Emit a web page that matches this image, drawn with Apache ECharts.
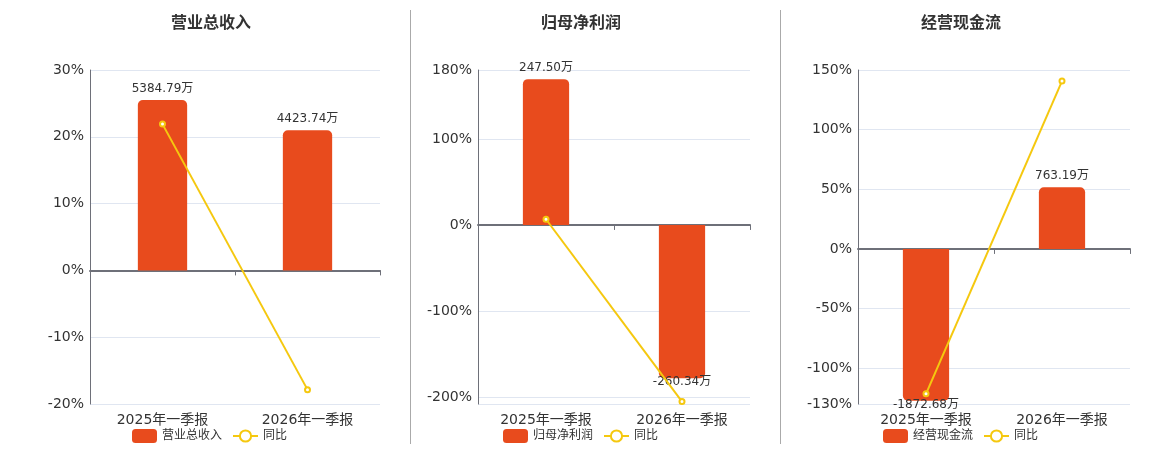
<!DOCTYPE html>
<html>
<head>
<meta charset="utf-8">
<script src="https://cdn.jsdelivr.net/npm/echarts@6/dist/echarts.min.js"></script>
<style>
html,body{margin:0;padding:0;background:#fff;}
#c{width:1160px;height:450px;}
</style>
</head>
<body>
<div id="c"></div>
<script>
// ---- data ----
const categories = ['2025年一季报', '2026年一季报'];
const titles = ['营业总收入', '归母净利润', '经营现金流'];
const revenue = [5384.79, 4423.74];
const revenueYoy = [21.9, -17.85];
const netProfit = [247.50, -260.34];
const netProfitYoy = [6.6, -205.19];
const cashFlow = [-1872.68, 763.19];
const cashFlowYoy = [-121.5, 140.75];
const revenueTicks = [-20, -10, 0, 10, 20, 30];
const profitTicks = [-200, -100, 0, 100, 180];
const cashTicks = [-130, -100, -50, 0, 50, 100, 150];

// ---- layout / scales ----
const panels = [
  { bars: revenue, yoy: revenueYoy, ticks: revenueTicks, splits: revenueTicks,
    pctMin: -20, pctMax: 30, barMin: -4220, barMax: 6330,
    gridLeft: 90, gridWidth: 290, titleLeft: 171, legendLeft: 132 },
  { bars: netProfit, yoy: netProfitYoy, ticks: profitTicks, splits: [-208].concat(profitTicks),
    pctMin: -208, pctMax: 180, barMin: -304, barMax: 263,
    gridLeft: 478, gridWidth: 272, titleLeft: 541, legendLeft: 503 },
  { bars: cashFlow, yoy: cashFlowYoy, ticks: cashTicks, splits: cashTicks,
    pctMin: -130, pctMax: 150, barMin: -1914, barMax: 2211,
    gridLeft: 858, gridWidth: 272, titleLeft: 921, legendLeft: 883 }
];

const BAR_COLOR = '#E84B1D';
const LINE_COLOR = '#F5C80F';
const AXIS_COLOR = '#6E7079';
const FONT = "'DejaVu Sans', 'Noto Sans CJK SC', sans-serif";

const option = {
  animation: false,
  backgroundColor: '#fff',
  textStyle: { fontFamily: FONT },
  title: [], legend: [], grid: [], xAxis: [], yAxis: [], series: [],
  graphic: [
    { type: 'line', shape: { x1: 410.5, y1: 10, x2: 410.5, y2: 444 }, style: { stroke: '#aaa', lineWidth: 1 } },
    { type: 'line', shape: { x1: 780.5, y1: 10, x2: 780.5, y2: 444 }, style: { stroke: '#aaa', lineWidth: 1 } }
  ]
};

panels.forEach((p, i) => {
  option.title.push({
    text: titles[i], left: p.titleLeft, top: 16, padding: 0,
    textStyle: { fontSize: 16, fontWeight: 'bold', color: '#333', fontFamily: FONT }
  });
  option.legend.push({
    data: [titles[i], '同比'], left: p.legendLeft, top: 429, padding: 0,
    itemWidth: 25, itemHeight: 14, itemGap: 10,
    textStyle: { fontSize: 12, color: '#333', fontFamily: FONT }
  });
  option.grid.push({ left: p.gridLeft, width: p.gridWidth, top: 70, height: 334, containLabel: false });
  // label axis at bottom
  option.xAxis.push({
    type: 'category', gridIndex: i, data: categories, position: 'bottom',
    axisLine: { show: false, onZero: false }, axisTick: { show: false },
    axisLabel: { fontSize: 14, color: '#333', margin: 9, fontFamily: FONT },
    splitLine: { show: false }
  });
  // zero line axis
  option.xAxis.push({
    type: 'category', gridIndex: i, data: categories, position: 'bottom',
    axisLine: { show: true, onZero: true, onZeroAxisIndex: 2 * i, lineStyle: { color: AXIS_COLOR, width: 2 } },
    axisTick: { show: true, length: 5, lineStyle: { color: AXIS_COLOR, width: 1 } },
    axisLabel: { show: false }, splitLine: { show: false }
  });
  // percent axis
  option.yAxis.push({
    type: 'value', gridIndex: i, min: p.pctMin, max: p.pctMax, position: 'left',
    axisLine: { show: true, lineStyle: { color: AXIS_COLOR, width: 1 } },
    axisTick: { show: false, customValues: p.splits },
    axisLabel: { customValues: p.ticks, formatter: '{value}%', fontSize: 14, color: '#333', margin: 6, fontFamily: FONT },
    splitLine: { show: true, lineStyle: { color: '#E0E6F1', width: 1 } }
  });
  // hidden amount axis
  option.yAxis.push({
    type: 'value', gridIndex: i, min: p.barMin, max: p.barMax, position: 'right', show: false,
    splitLine: { show: false }
  });
  option.series.push({
    type: 'bar', name: titles[i], xAxisIndex: 2 * i, yAxisIndex: 2 * i + 1,
    barWidth: '34%',
    itemStyle: { color: BAR_COLOR },
    label: {
      show: true, fontSize: 12, color: '#333', fontFamily: FONT,
      formatter: (d) => d.value.toFixed(2) + '万'
    },
    data: p.bars.map(v => ({
      value: v,
      itemStyle: { borderRadius: v < 0 ? [0, 0, 5, 5] : [5, 5, 0, 0] },
      label: v < 0 ? { position: 'bottom', distance: -2 } : { position: 'top', distance: 5 }
    })),
    z: 2
  });
  option.series.push({
    type: 'line', name: '同比', xAxisIndex: 2 * i, yAxisIndex: 2 * i,
    data: p.yoy, symbol: 'emptyCircle', symbolSize: 5,
    lineStyle: { color: LINE_COLOR, width: 2 },
    itemStyle: { color: LINE_COLOR, borderWidth: 1.5 },
    z: 3
  });
});

const chart = echarts.init(document.getElementById('c'), null, { renderer: 'canvas' });
chart.setOption(option);
</script>
</body>
</html>
